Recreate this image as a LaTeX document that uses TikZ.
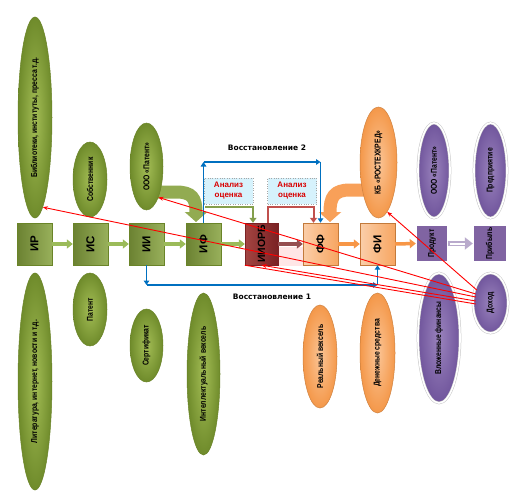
\documentclass[tikz,border=0pt]{standalone}
\usepackage{graphicx}
\usepackage{fontspec}
\setmainfont{Liberation Sans}
\newfontfamily\dvs{DejaVu Sans}
\usetikzlibrary{shapes.geometric,arrows.meta,calc}
\definecolor{gin}{HTML}{A3BD55}
\definecolor{gout}{HTML}{6F8B2B}
\definecolor{gedge}{HTML}{6A8428}
\definecolor{gboxc}{HTML}{86A23E}
\definecolor{garrow}{HTML}{9BBB59}
\definecolor{oin}{HTML}{FBC596}
\definecolor{oout}{HTML}{F4984A}
\definecolor{oboxc}{HTML}{F7A662}
\definecolor{oarrow}{HTML}{F79646}
\definecolor{pin}{HTML}{9A83BD}
\definecolor{pout}{HTML}{70559C}
\definecolor{pboxc}{HTML}{8064A2}
\definecolor{rdark}{HTML}{7A2224}
\definecolor{rlight}{HTML}{C0504D}
\definecolor{bline}{HTML}{0070C0}
\newcommand{\etx}[1]{\rotatebox{90}{\scalebox{0.8}[1]{#1}}}
\tikzset{
 ell/.style={ellipse, inner sep=0pt, line width=0.5pt, font=\bfseries\fontsize{8.5}{9}\selectfont},
 gell/.style={ell, draw=gedge, inner color=gin, outer color=gout},
 oell/.style={ell, draw=oout!85!black, inner color=oin, outer color=oout},
 pell/.style={ell, draw=gray!45, double=white, double distance=1.6pt, inner color=pin, outer color=pout},
 boxn/.style={rectangle, inner sep=0pt, minimum width=35pt, minimum height=42pt, font=\bfseries\fontsize{11.5}{12}\selectfont},
 gbox/.style={boxn, left color=gboxc!80!black, right color=gboxc!85!white, draw=gedge},
 obox/.style={boxn, left color=oboxc!55!white, right color=oboxc, draw=oout!80!black},
 rbox/.style={boxn, minimum width=33pt, left color=rlight!85!black, right color=rdark, draw=rdark, font=\bfseries\fontsize{10.5}{12}\selectfont},
 pbox/.style={boxn, minimum width=32pt, minimum height=37pt, fill=pboxc, draw=gray!45, double=white, double distance=1.6pt, font=\bfseries\fontsize{8.5}{9}\selectfont},
 abox/.style={rectangle, inner sep=1pt, minimum width=49pt, minimum height=26pt, fill=cyan!16, draw=gray!70, dotted, align=center, text=red!85!black, font=\bfseries\fontsize{8}{10}\selectfont},
 garr/.style={line width=3.5pt, draw=garrow, -{Triangle[length=6pt,width=9pt]}},
 oarr/.style={line width=3.5pt, draw=oarrow, -{Triangle[length=6pt,width=9pt]}},
 rarr/.style={line width=3.5pt, draw=rdark!80, -{Triangle[length=6pt,width=9pt]}},
 barr/.style={draw=bline, line width=1.5pt, -{Triangle[length=4.5pt,width=5.5pt]}},
 redl/.style={draw=red, line width=0.9pt, -{Stealth[length=5pt,width=4pt]}},
 vlab/.style={font=\dvs\bfseries\fontsize{7.5}{9}\selectfont},
}
\begin{document}
\begin{tikzpicture}[x=1pt,y=-1pt]
\useasboundingbox (0,0) rectangle (518,492);
\fill[white] (0,0) rectangle (518,492);

% thick curved arrows (behind ellipses)
\coordinate (gc0) at (150,192);
\coordinate (gc1) at (196,222);
\draw[line width=13pt, draw=gboxc!90!white, -{Triangle[length=10pt,width=22pt]}] (gc0) -- (176,192) .. controls (192,192) and (196,198) .. (gc1);
\coordinate (oc0) at (372,190);
\coordinate (oc1) at (330,222);
\draw[line width=13pt, draw=oarrow!90!white, -{Triangle[length=10pt,width=22pt]}] (oc0) -- (350,190) .. controls (334,190) and (330,197) .. (oc1);

% green ellipses
\node[gell, minimum width=34pt, minimum height=201pt] (bib) at (35,117.5) {\etx{Библиотеки, институты, пресса т.д.}};
\node[gell, minimum width=34pt, minimum height=75pt] (sob) at (90,179.5) {\etx{Собственник}};
\node[gell, minimum width=33pt, minimum height=87pt] (pat1) at (146.5,166.5) {\etx{ООО «Патент»}};
\node[gell, minimum width=34pt, minimum height=217pt] (lit) at (35,381.5) {\etx{Литература, интернет, новости и т.д.}};
\node[gell, minimum width=34pt, minimum height=73pt] (pat) at (90,309.5) {\etx{Патент}};
\node[gell, minimum width=33pt, minimum height=73pt] (ser) at (146.5,345.5) {\etx{Сертификат}};
\node[gell, minimum width=33pt, minimum height=162pt] (iv) at (203.5,374) {\etx{Интеллектуальный вексель}};

% orange ellipses
\node[oell, minimum width=37pt, minimum height=111pt] (kb) at (378.5,162.5) {\etx{КБ «РОСТЕХКРЕД»}};
\node[oell, minimum width=34pt, minimum height=103pt] (rv) at (320,356.5) {\etx{Реальный вексель}};
\node[oell, minimum width=35pt, minimum height=120pt] (ds) at (377.5,353) {\etx{Денежные средства}};

% purple ellipses
\node[pell, minimum width=32pt, minimum height=95pt] (pat2) at (434,170.5) {\etx{ООО «Патент»}};
\node[pell, minimum width=33pt, minimum height=95pt] (pred) at (490.5,170.5) {\etx{Предприятие}};
\node[pell, minimum width=42pt, minimum height=130pt] (vf) at (439,338) {\etx{Вложенные финансы}};
\node[pell, minimum width=35pt, minimum height=60pt] (doh) at (490.5,303) {\etx{Доход}};

% pale reflection between ИИОРБ and ФФ
\fill[red!12, opacity=0.8] (278,247) rectangle (303,266);

% boxes
\node[gbox] (ir) at (34.5,244) {\rotatebox{90}{ИР}};
\node[gbox] (is) at (90.5,244) {\rotatebox{90}{ИС}};
\node[gbox] (ii) at (146.5,244) {\rotatebox{90}{ИИ}};
\node[gbox] (if) at (203.5,244) {\rotatebox{90}{ИФ}};
\node[rbox] (iiorb) at (261.5,244) {\rotatebox{90}{ИИОРБ}};
\node[obox] (ff) at (320.5,244) {\rotatebox{90}{ФФ}};
\node[obox] (fi) at (377.5,244) {\rotatebox{90}{ФИ}};
\node[pbox] (prod) at (432,243.5) {\etx{Продукт}};
\node[pbox, minimum width=34pt] (prib) at (490,243.5) {\etx{Прибыль}};

% horizontal arrows
\draw[garr] (ir.east) -- (is.west);
\draw[garr] (is.east) -- (ii.west);
\draw[garr] (ii.east) -- (if.west);
\draw[garr] (if.east) -- (iiorb.west);
\draw[rarr] (iiorb.east) -- (ff.west);
\draw[oarr] (ff.east) -- (fi.west);
\draw[oarr] (fi.east) -- (prod.west);
\draw[line width=5pt, draw=pboxc!55, -{Triangle[length=8pt,width=12pt]}] (prod.east) -- (prib.west);
\draw[line width=2pt, draw=white, shorten >=8pt, shorten <=1.5pt] (prod.east) -- (prib.west);

% analysis boxes
\node[abox] (an1) at (228.5,191) {Анализ\\оценка};
\node[abox] (an2) at (292,191) {Анализ\\оценка};

% green and dark red routes
\coordinate (gr1) at (205,207);
\coordinate (gr2) at (253,207);
\draw[line width=2pt, draw=garrow!85!black, -{Triangle[length=5pt,width=7pt]}] (gr1) -- (gr2) -- (gr2 |- iiorb.north);
\draw[line width=2pt, draw=rlight, -{Triangle[length=5pt,width=7pt]}] ($(iiorb.north)+(6.5,0)$) -- ++(0,-16) -| ($(ff.north)+(-7,0)$);

% Восстановление 2
\coordinate (c2a) at (203.5,162);
\coordinate (c2b) at (320.5,162);
\draw[barr] (if.north) -- (c2a);
\draw[barr] (c2a) -- (c2b);
\draw[barr] (c2b) -- (ff.north);
\node[vlab] (v2) at (267,148) {Восстановление 2};

% Восстановление 1
\coordinate (c1a) at (146.5,285);
\coordinate (c1b) at (377.5,285);
\draw[barr] (ii.south) -- (c1a);
\draw[barr] (c1a) -- (c1b);
\draw[barr] (c1b) -- (fi.south);
\node[vlab] (v1) at (272,297) {Восстановление 1};

% red lines from Доход
\draw[redl] ($(doh.west)+(4,-13)$) -- (kb.-80);
\draw[redl] ($(doh.west)+(3,-9)$) -- (pat1.-69);
\draw[redl] ($(doh.west)+(3,-6)$) -- (bib.-85);
\draw[redl] ($(doh.west)+(3,-2)$) -- (iiorb.south);
\draw[draw=red, line width=0.9pt] ($(doh.west)+(3,1)$) -- (iiorb.south west);
\end{tikzpicture}
\end{document}
